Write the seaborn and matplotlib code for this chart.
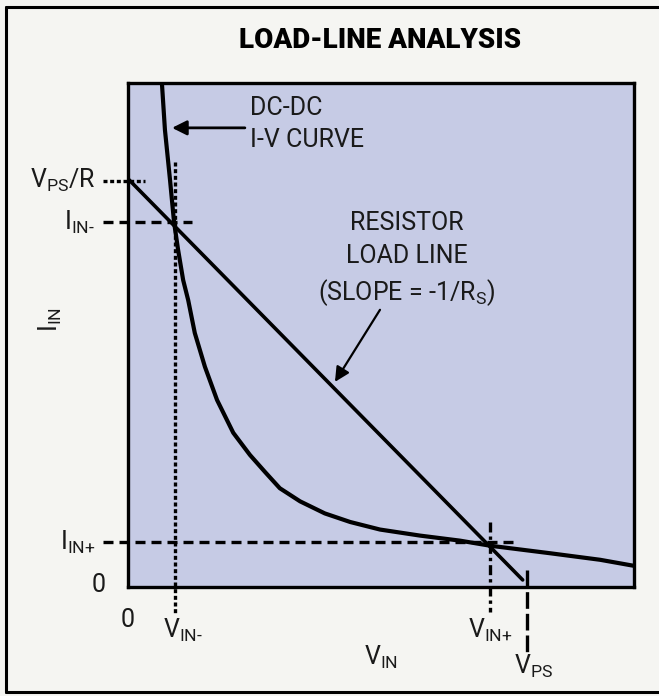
import matplotlib
matplotlib.use("Agg")
import matplotlib.pyplot as plt
import seaborn as sns
from matplotlib.lines import Line2D
from matplotlib import font_manager as fm

# Values (V along x, I along y, box = 0..100)
curve_v = [6.7, 7.3, 8.3, 9.1, 9.9, 10.9, 11.9, 13.2, 15.2, 17.6, 20.8, 24.1,
           27.1, 30.0, 34.0, 38.9, 43.9, 49.8, 57.7, 65.6, 71.5, 83.4, 93.3, 100.0]
curve_i = [100.0, 90.7, 80.8, 72.4, 66.9, 60.9, 56.9, 50.4, 43.7, 37.1, 30.6, 26.2,
           22.8, 19.6, 17.0, 14.6, 12.9, 11.4, 10.2, 9.2, 8.2, 6.7, 5.4, 4.2]

load_v = [0.0, 78.0]
load_i = [81.0, 1.4]

v_in_minus = 9.3
v_in_plus = 71.5
v_ps = 78.9
i_in_minus = 72.4
i_in_plus = 8.9
v_ps_over_r = 80.6

sns.set_theme(style="white")
avail = {f.name for f in fm.fontManager.ttflist}
family = "Liberation Sans Narrow" if "Liberation Sans Narrow" in avail else "Roboto"
plt.rcParams["font.family"] = [family, "DejaVu Sans"]
plt.rcParams["font.stretch"] = "condensed"
plt.rcParams["mathtext.fontset"] = "custom"
plt.rcParams["mathtext.rm"] = family
plt.rcParams["mathtext.it"] = family + ":italic"
plt.rcParams["mathtext.bf"] = family + ":bold"

bg = "#f5f5f2"
fig = plt.figure(figsize=(6.59, 6.96), dpi=100, facecolor=bg)
fig.patch.set_linewidth(0)
ax = fig.add_axes([128 / 659, 1 - 587 / 696, 506 / 659, 504 / 696])
ax.set_facecolor("#c6cbe5")
ax.set_xlim(0, 100)
ax.set_ylim(0, 100)
ax.set_xticks([])
ax.set_yticks([])
for s in ax.spines.values():
    s.set_color("black")
    s.set_linewidth(2.4)

# outer frame (left, top, bottom)
lw_frame = 2.2
fig.add_artist(Line2D([0.009, 0.009], [0.006, 0.990], color="black", lw=lw_frame))
fig.add_artist(Line2D([0.009, 1.0], [0.990, 0.990], color="black", lw=lw_frame))
fig.add_artist(Line2D([0.009, 1.0], [0.006, 0.006], color="black", lw=lw_frame))

# curves
sns.lineplot(x=curve_v, y=curve_i, ax=ax, color="black", lw=3.0, sort=False)
sns.lineplot(x=load_v, y=load_i, ax=ax, color="black", lw=2.6, sort=False)

# reference lines
dotted = (0, (1.2, 0.8))
dashed = (0, (3.0, 1.8))
dashdot = (0, (3.0, 1.2, 1.0, 1.2))
ax.plot([-4.9, 3.4], [v_ps_over_r, v_ps_over_r], color="black", lw=2.4, ls=dotted, clip_on=False)
ax.plot([-4.9, 12.6], [i_in_minus, i_in_minus], color="black", lw=2.4, ls=dashed, clip_on=False)
ax.plot([-4.9, 76.0], [i_in_plus, i_in_plus], color="black", lw=2.4, ls=dashed, clip_on=False)
ax.plot([v_in_minus, v_in_minus], [84.3, -5.4], color="black", lw=2.4, ls=dotted, clip_on=False)
ax.plot([v_in_plus, v_in_plus], [12.9, -5.0], color="black", lw=2.4, ls=dashdot, clip_on=False)
ax.plot([v_ps, v_ps], [3.4, -13.5], color="black", lw=2.4, ls=(0, (5, 1.5)), clip_on=False)

fs = 18
txt = dict(color="#1a1a1a", fontsize=fs, clip_on=False)

# left labels
ax.text(-6.5, v_ps_over_r, r"V$_\mathrm{PS}$/R", ha="right", va="center", **txt)
ax.text(-6.5, i_in_minus, r"I$_{\mathrm{IN}\text{-}}$", ha="right", va="center", **txt)
ax.text(-6.5, i_in_plus, r"I$_{\mathrm{IN}\text{+}}$", ha="right", va="center", **txt)
ax.text(-4.5, 0.4, "0", ha="right", va="center", **txt)
ax.text(-15.4, 53, r"I$_\mathrm{IN}$", ha="center", va="center", rotation=90, **txt)

# bottom labels
ax.text(0, -6.5, "0", ha="center", va="center", **txt)
ax.text(v_in_minus + 1.5, -6.0, r"V$_{\mathrm{IN}\text{-}}$", ha="center", va="top", **txt)
ax.text(v_in_plus, -6.0, r"V$_{\mathrm{IN}\text{+}}$", ha="center", va="top", **txt)
ax.text(50, -11.2, r"V$_\mathrm{IN}$", ha="center", va="top", **txt)
ax.text(v_ps + 1.2, -13.0, r"V$_\mathrm{PS}$", ha="center", va="top", **txt)

# annotations
ax.text(24.1, 95, "DC-DC", ha="left", va="center", **txt)
ax.text(24.1, 88.7, "I-V CURVE", ha="left", va="center", **txt)
ax.annotate("", xy=(8.7, 91.1), xytext=(23.1, 91.1),
            arrowprops=dict(arrowstyle="-|>", color="black", lw=2.0,
                            mutation_scale=22, shrinkA=0, shrinkB=0))

ax.text(55.1, 72.2, "RESISTOR", ha="center", va="center", **txt)
ax.text(55.1, 65.7, "LOAD LINE", ha="center", va="center", **txt)
ax.text(55.1, 58.5, r"(SLOPE = -1/R$_\mathrm{S}$)", ha="center", va="center", **txt)
ax.annotate("", xy=(40.9, 40.7), xytext=(49.8, 55.0),
            arrowprops=dict(arrowstyle="-|>", color="black", lw=1.6,
                            mutation_scale=22, shrinkA=0, shrinkB=0))

fig.text(380 / 659, 1 - 40 / 696, "LOAD-LINE ANALYSIS", ha="center", va="center",
         fontsize=20, fontweight="black", color="black")

fig.savefig("out.png", dpi=100, facecolor=bg)
